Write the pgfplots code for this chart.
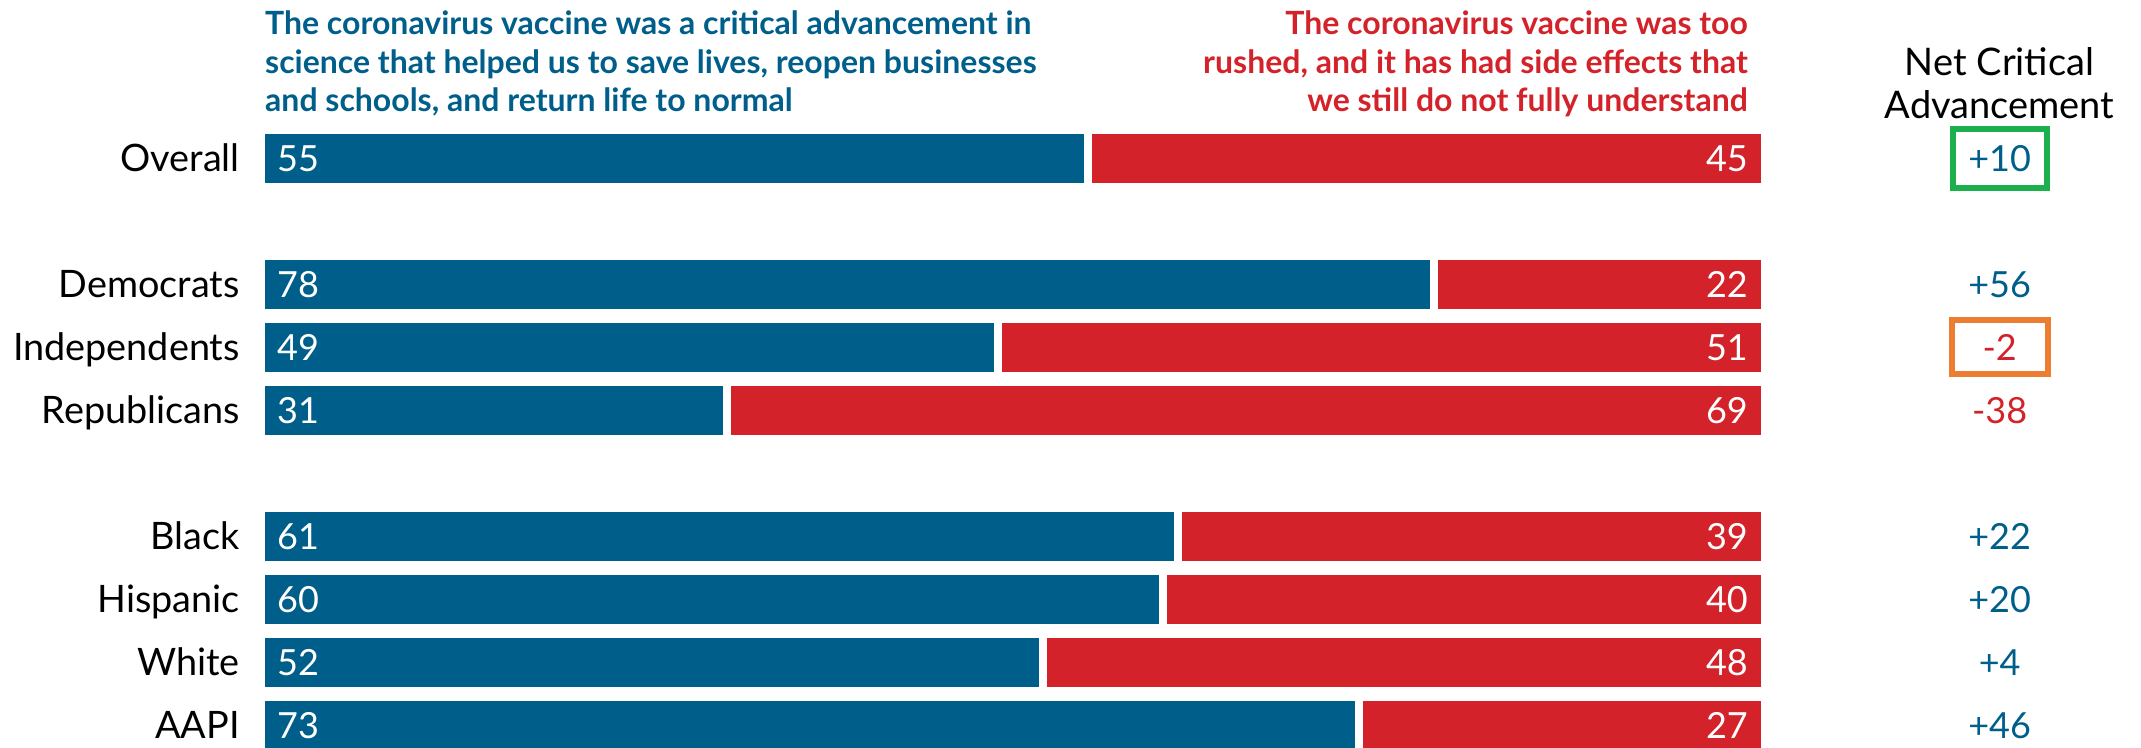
\documentclass[border=0pt]{standalone}
\usepackage{pgfplots}
\usepackage{pgfplotstable}
\pgfplotsset{compat=1.18}
\usepackage{fontspec}
\setmainfont{Lato}
\newfontfamily\headfont{Lato}
\definecolor{bluec}{RGB}{0,94,138}
\definecolor{redc}{RGB}{211,34,41}
\definecolor{greenbox}{RGB}{28,176,76}
\definecolor{orangebox}{RGB}{237,125,49}
\newcommand\catfont{\fontsize{37.8}{43}\selectfont}
\newcommand\numfont{\fontsize{36}{43}\selectfont}
\newcommand\hfont{\headfont\bfseries\fontsize{32}{38.5}\selectfont}

\pgfplotstableread{
y name blue red net
0 Overall 55 45 +10
2 Democrats 78 22 +56
3 Independents 49 51 -2
4 Republicans 31 69 -38
6 Black 61 39 +22
7 Hispanic 60 40 +20
8 White 52 48 +4
9 AAPI 73 27 +46
}\data

\begin{document}
\begin{tikzpicture}
\begin{axis}[
  scale only axis,
  width=2141pt, height=748pt,
  xmin=-17.354, xmax=125.0,
  ymin=-2.514, ymax=9.359,
  y dir=reverse,
  hide axis,
  clip=false,
]
\coordinate (bbA) at (rel axis cs:0,0);
\coordinate (bbB) at (rel axis cs:1,1);
% bars
\addplot[xbar, bar width=57pt, bar shift=0pt, fill=redc, draw=white, line width=8pt]
  table[x expr=\thisrow{blue}+\thisrow{red}, y=y] {\data};
\addplot[xbar, bar width=57pt, bar shift=0pt, fill=bluec, draw=white, line width=8pt]
  table[x=blue, y=y] {\data};
% values in bars
\addplot[draw=none, mark=none, nodes near coords, point meta=explicit symbolic,
  nodes near coords style={anchor=base west, inner sep=0pt, xshift=16pt, yshift=-13pt, text=white, font=\numfont}]
  table[x expr=0, y=y, meta=blue] {\data};
\addplot[draw=none, mark=none, nodes near coords, point meta=explicit symbolic,
  nodes near coords style={anchor=base east, inner sep=0pt, xshift=-17pt, yshift=-13pt, text=white, font=\numfont}]
  table[x expr=\thisrow{blue}+\thisrow{red}, y=y, meta=red] {\data};
% category labels
\addplot[draw=none, mark=none, nodes near coords, point meta=explicit symbolic,
  nodes near coords style={anchor=base east, inner sep=0pt, xshift=-21pt, yshift=-13pt, text=black, font=\catfont}]
  table[x expr=0, y=y, meta=name] {\data};
% net values
\addplot[draw=none, mark=none, nodes near coords, point meta=explicit symbolic,
  restrict expr to domain={\thisrow{blue}-\thisrow{red}}{0:100},
  nodes near coords style={anchor=base, inner sep=0pt, yshift=-13pt, text=bluec, font=\numfont}]
  table[x expr=115.6, y=y, meta=net] {\data};
\addplot[draw=none, mark=none, nodes near coords, point meta=explicit symbolic,
  restrict expr to domain={\thisrow{blue}-\thisrow{red}}{-100:-0.5},
  nodes near coords style={anchor=base, inner sep=0pt, yshift=-13pt, text=redc, font=\numfont}]
  table[x expr=115.6, y=y, meta=net] {\data};
% boxes
\draw[greenbox, line width=6pt] (axis cs:115.6,0) ++(-47pt,-29.5pt) rectangle ++(94pt,59pt);
\draw[orangebox, line width=6pt] (axis cs:115.6,3) ++(-48pt,-27pt) rectangle ++(96pt,54pt);
% headers (base anchor = baseline of last line)
\node[anchor=base west, inner sep=0pt, align=left, text=bluec, font=\hfont] at (axis cs:0,-0.7365) [xshift=4pt]
  {The coronavirus vaccine was a critical advancement in\\science that helped us to save lives, reopen businesses\\and schools, and return life to normal};
\node[anchor=base east, inner sep=0pt, align=right, text=redc, font=\hfont] at (axis cs:100,-0.7365) [xshift=-17pt]
  {The coronavirus vaccine was too\\rushed, and it has had side effects that\\we still do not fully understand};
\node[anchor=base, inner sep=0pt, align=center, font=\fontsize{38}{43}\selectfont] at (axis cs:115.6,-0.641)
  {Net Critical\\Advancement};
\end{axis}
\pgfresetboundingbox
\path (bbA) rectangle (bbB);
\end{tikzpicture}
\end{document}
